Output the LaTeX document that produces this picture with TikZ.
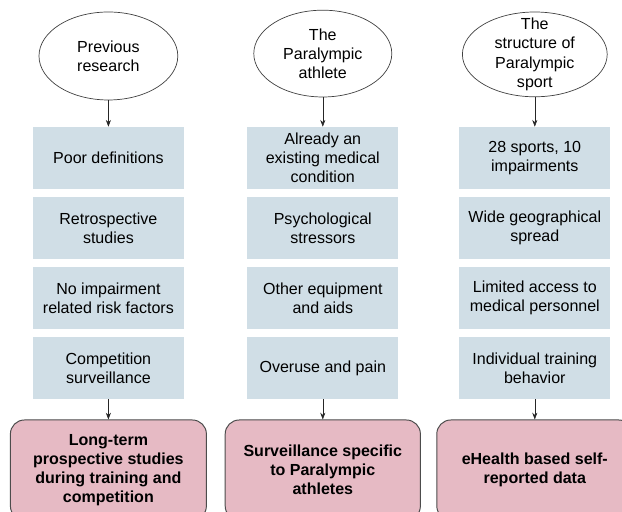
\documentclass[tikz,border=0pt]{standalone}
\usepackage{fontspec}
\setmainfont{Liberation Sans}
\usetikzlibrary{shapes.geometric,arrows.meta}

\definecolor{factblue}{RGB}{208,222,230}
\definecolor{aimpink}{RGB}{230,186,196}

\tikzset{
  topic/.style={ellipse, draw=black!75, line width=0.5pt, inner sep=0pt},
  fact/.style={fill=factblue, minimum width=3.78cm, minimum height=1.55cm,
    inner sep=1pt, align=center},
  aim/.style={fill=aimpink, draw=black!70, line width=0.7pt,
    rounded corners=0.35cm, minimum width=4.9cm, minimum height=2.5cm,
    align=center, font=\fontsize{11.4}{13.6}\selectfont\bfseries},
}

\begin{document}
\begin{tikzpicture}[>=Stealth, font=\fontsize{11.4}{13.6}\selectfont]
\useasboundingbox (0,0) rectangle (15.55,12.8);

% the three starting points
\node[topic, minimum width=3.47cm, minimum height=2.2cm] (prev) at (2.71, 11.4) {};
\node[align=center] (prev text) at (prev) {Previous\\research};
\node[topic, minimum width=3.45cm, minimum height=2.17cm] (athl) at (8.07, 11.46) {};
\node[align=center] (athl text) at (athl) {The\\Paralympic\\athlete};
\node[topic, minimum width=3.62cm, minimum height=2.12cm] (sport) at (13.37, 11.44) {};
\node[align=center] (sport text) at (sport) {The\\structure of\\Paralympic\\sport};

% the blue boxes, one column each
\foreach \txt [count=\i] in {Poor definitions, {Retrospective\\studies},
	{No impairment\\related risk factors}, {Competition\\surveillance}} {
    \node[fact] (prev\i) at (2.71, 10.6-1.75*\i) {\txt};
}
\foreach \txt [count=\i] in {{Already an\\existing medical\\condition},
	{Psychological\\stressors}, {Other equipment\\and aids}, Overuse and pain} {
    \node[fact] (athl\i) at (8.07, 10.6-1.75*\i) {\txt};
}
\foreach \txt [count=\i] in {{28 sports, 10\\impairments},
	{Wide geographical\\spread}, {Limited access to\\medical personnel},
	{Individual training\\behavior}} {
    \node[fact] (sport\i) at (13.37, 10.6-1.75*\i) {\txt};
}

% what follows from them
\node[aim] (aimprev) at (2.71, 1.05)
    {Long-term\\prospective studies\\during training and\\competition};
\node[aim, minimum width=4.88cm] (aimathl) at (8.07, 1.05)
    {Surveillance specific\\to Paralympic\\athletes};
\node[aim] (aimsport) at (13.37, 1.05) {eHealth based self-\\reported data};

\draw[->, black!85] (prev.south) -- (prev1.north);
\draw[->, black!85] (athl.south) -- (athl1.north);
\draw[->, black!85] (sport.south) -- (sport1.north);
\draw[->, black!85] (prev4.south) -- (aimprev.north);
\draw[->, black!85] (athl4.south) -- (aimathl.north);
\draw[->, black!85] (sport4.south) -- (aimsport.north);
\end{tikzpicture}
\end{document}
